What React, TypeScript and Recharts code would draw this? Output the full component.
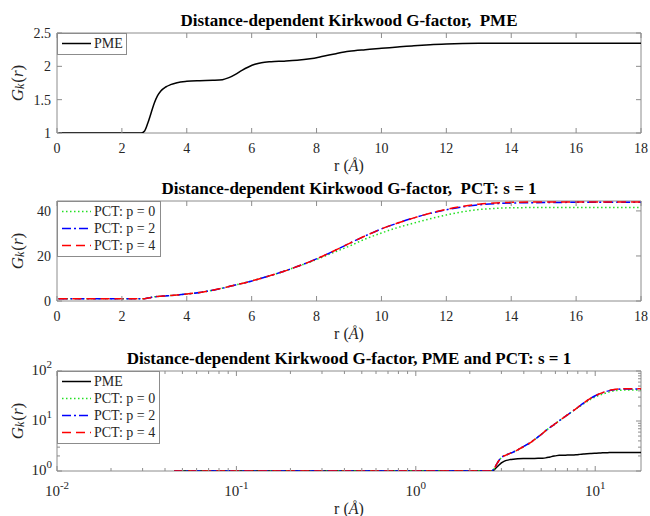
import React from "react"
import { LineChart, Line, XAxis, YAxis, ReferenceArea, Label } from "recharts"

// shared r grid (Å) for every series
const rValues = [
  0.045, 0.5, 1, 1.5, 2, 2.4, 2.6, 2.7, 2.8, 2.9, 3.0, 3.1, 3.2, 3.35, 3.5, 3.7,
  4.0, 4.4, 4.8, 5.1, 5.3, 5.5, 5.7, 5.9, 6.1, 6.3, 6.6, 7.0, 7.4, 7.8, 8.2,
  8.6, 9.0, 9.5, 10, 10.5, 11, 11.5, 12, 12.5, 13, 13.5, 14, 15, 16, 17, 18,
]

const pmeValues = [
  1, 1, 1, 1, 1, 1, 1, 1.03, 1.15, 1.3, 1.45, 1.56, 1.63, 1.69, 1.725, 1.755,
  1.775, 1.785, 1.79, 1.8, 1.83, 1.88, 1.94, 1.99, 2.03, 2.055, 2.07, 2.078,
  2.09, 2.113, 2.15, 2.19, 2.225, 2.25, 2.27, 2.29, 2.31, 2.325, 2.335, 2.342,
  2.345, 2.345, 2.345, 2.345, 2.345, 2.345, 2.345,
]

const pctP0 = [
  1, 1, 1, 1, 1, 1, 1, 1.05, 1.3, 1.6, 1.85, 2.0, 2.1, 2.25, 2.4, 2.65, 3.1,
  3.8, 4.8, 5.7, 6.4, 7.1, 7.8, 8.5, 9.3, 10.1, 11.4, 13.2, 15.3, 17.3, 19.6,
  22.0, 24.3, 27.5, 30.2, 32.6, 34.6, 36.5, 38.2, 39.6, 40.6, 41.1, 41.4, 41.5,
  41.5, 41.5, 41.5,
]

const pctP2 = [
  1, 1, 1, 1, 1, 1, 1, 1.05, 1.3, 1.6, 1.85, 2.0, 2.1, 2.25, 2.4, 2.65, 3.1,
  3.8, 4.8, 5.7, 6.4, 7.1, 7.8, 8.5, 9.3, 10.1, 11.4, 13.2, 15.3, 17.5, 20.0,
  22.7, 25.5, 28.9, 32.0, 34.6, 36.9, 38.9, 40.5, 41.8, 42.7, 43.2, 43.5, 43.7,
  43.8, 43.8, 43.8,
]

const pctP4 = [
  1, 1, 1, 1, 1, 1, 1, 1.05, 1.3, 1.6, 1.85, 2.0, 2.1, 2.25, 2.4, 2.65, 3.1,
  3.8, 4.8, 5.7, 6.4, 7.1, 7.8, 8.5, 9.3, 10.1, 11.4, 13.2, 15.3, 17.5, 20.0,
  22.7, 25.5, 28.9, 32.0, 34.6, 36.9, 39.0, 40.7, 42.0, 43.0, 43.5, 43.8, 44.0,
  44.0, 44.0, 44.0,
]

const linearXTicks = [0, 2, 4, 6, 8, 10, 12, 14, 16, 18]
const pmeYTicks = [1, 1.5, 2, 2.5]
const pctYTicks = [0, 20, 40]
const logXTicks = [
  0.01, 0.02, 0.03, 0.04, 0.05, 0.06, 0.07, 0.08, 0.09,
  0.1, 0.2, 0.3, 0.4, 0.5, 0.6, 0.7, 0.8, 0.9,
  1, 2, 3, 4, 5, 6, 7, 8, 9, 10,
]
const logYTicks = [1, 2, 3, 4, 5, 6, 7, 8, 9, 10, 20, 30, 40, 50, 60, 70, 80, 90, 100]

const rows = rValues.map((r, i) => ({
  r,
  pme: pmeValues[i],
  p0: pctP0[i],
  p2: pctP2[i],
  p4: pctP4[i],
}))

const SERIES = {
  pme: { name: "PME", color: "#000000", dash: undefined as string | undefined },
  p0: { name: "PCT: p = 0", color: "#22e022", dash: "1.5 2.5" },
  p2: { name: "PCT: p = 2", color: "#0000ff", dash: "9 3 2 3" },
  p4: { name: "PCT: p = 4", color: "#ff0000", dash: "9 5" },
}

const FONT = '"Liberation Serif", "Times New Roman", serif'
const AXIS_COLOR = "#8c8c8c"
const TEXT_COLOR = "#262626"
const PLOT_W = 584
const PLOT_H = 100
const TICK = 5
const MINOR = 3
const MARGIN = { top: 33, right: 9, bottom: 0, left: 0 }

const isDecade = (v: number) => {
  const e = Math.log10(v)
  return Math.abs(e - Math.round(e)) < 1e-6
}

function LinearXTick(props: any) {
  const { x, y, payload } = props
  return (
    <g>
      <line x1={x} x2={x} y1={y} y2={y - TICK} stroke={AXIS_COLOR} />
      <line x1={x} x2={x} y1={y - PLOT_H} y2={y - PLOT_H + TICK} stroke={AXIS_COLOR} />
      <text x={x} y={y + 20} textAnchor="middle" fontSize={14} fontFamily={FONT} fill={TEXT_COLOR}>
        {payload.value}
      </text>
    </g>
  )
}

function LinearYTick(props: any) {
  const { x, y, payload } = props
  return (
    <g>
      <line x1={x} x2={x + TICK} y1={y} y2={y} stroke={AXIS_COLOR} />
      <line x1={x + PLOT_W} x2={x + PLOT_W - TICK} y1={y} y2={y} stroke={AXIS_COLOR} />
      <text x={x - 6} y={y + 5} textAnchor="end" fontSize={14} fontFamily={FONT} fill={TEXT_COLOR}>
        {payload.value}
      </text>
    </g>
  )
}

function LogXTick(props: any) {
  const { x, y, payload } = props
  const major = isDecade(payload.value)
  const len = major ? TICK : MINOR
  return (
    <g>
      <line x1={x} x2={x} y1={y} y2={y - len} stroke={AXIS_COLOR} />
      <line x1={x} x2={x} y1={y - PLOT_H} y2={y - PLOT_H + len} stroke={AXIS_COLOR} />
      {major && (
        <text x={x} y={y + 25} textAnchor="middle" fontSize={15} fontFamily={FONT} fill={TEXT_COLOR}>
          10
          <tspan dy={-7} fontSize={11}>
            {Math.round(Math.log10(payload.value))}
          </tspan>
        </text>
      )}
    </g>
  )
}

function LogYTick(props: any) {
  const { x, y, payload } = props
  const major = isDecade(payload.value)
  const len = major ? TICK : MINOR
  return (
    <g>
      <line x1={x} x2={x + len} y1={y} y2={y} stroke={AXIS_COLOR} />
      <line x1={x + PLOT_W} x2={x + PLOT_W - len} y1={y} y2={y} stroke={AXIS_COLOR} />
      {major && (
        <text x={x - 5} y={y + 4} textAnchor="end" fontSize={15} fontFamily={FONT} fill={TEXT_COLOR}>
          10
          <tspan dy={-7} fontSize={11}>
            {Math.round(Math.log10(payload.value))}
          </tspan>
        </text>
      )}
    </g>
  )
}

function GkLabel(props: any) {
  const vb = props.viewBox || { x: 0, y: MARGIN.top, width: 57, height: PLOT_H }
  const cx = vb.x + 17
  const cy = vb.y + vb.height / 2
  return (
    <text
      transform={`rotate(-90 ${cx} ${cy})`}
      x={cx}
      y={cy}
      textAnchor="middle"
      dominantBaseline="central"
      fontSize={17}
      fontFamily={FONT}
      fill={TEXT_COLOR}
    >
      <tspan fontStyle="italic">G</tspan>
      <tspan fontStyle="italic" fontSize={12} dy={3}>
        k
      </tspan>
      <tspan dy={-3} dx={1}>
        (
      </tspan>
      <tspan fontStyle="italic">r</tspan>
      <tspan>)</tspan>
    </text>
  )
}

function makeRLabel(offset: number) {
  return (props: any) => {
    const vb = props.viewBox || { x: 57, y: MARGIN.top + PLOT_H, width: PLOT_W, height: 40 }
    return (
      <text
        x={vb.x + vb.width / 2}
        y={vb.y + offset}
        textAnchor="middle"
        fontSize={16}
        fontFamily={FONT}
        fill={TEXT_COLOR}
      >
        r (<tspan fontStyle="italic">Å</tspan>)
      </text>
    )
  }
}

type LegendItem = { name: string; color: string; dash?: string }

function LegendBox({ items, width }: { items: LegendItem[]; width: number }) {
  return (
    <div
      style={{
        position: "absolute",
        left: 57,
        top: MARGIN.top,
        width,
        background: "#fff",
        border: `1px solid ${AXIS_COLOR}`,
        padding: "1px 0 2px",
        boxSizing: "border-box",
        fontFamily: FONT,
      }}
    >
      {items.map((it) => (
        <div key={it.name} style={{ display: "flex", alignItems: "center", height: 17 }}>
          <svg width={36} height={17} style={{ display: "block" }}>
            <line
              x1={4}
              x2={33}
              y1={8.5}
              y2={8.5}
              stroke={it.color}
              strokeWidth={1.5}
              strokeDasharray={it.dash}
            />
          </svg>
          <span style={{ fontSize: 14, lineHeight: "17px", color: TEXT_COLOR, whiteSpace: "nowrap" }}>
            {it.name}
          </span>
        </div>
      ))}
    </div>
  )
}

function Title({ text }: { text: string }) {
  return (
    <div
      style={{
        position: "absolute",
        left: 57,
        width: PLOT_W,
        top: 11,
        textAlign: "center",
        fontFamily: FONT,
        fontWeight: "bold",
        fontSize: 17,
        lineHeight: "20px",
        color: "#000",
        whiteSpace: "pre",
      }}
    >
      {text}
    </div>
  )
}

function seriesLine(key: keyof typeof SERIES) {
  const s = SERIES[key]
  return (
    <Line
      key={key}
      type="monotone"
      dataKey={key}
      name={s.name}
      stroke={s.color}
      strokeWidth={1.5}
      strokeDasharray={s.dash}
      dot={false}
      activeDot={false}
      isAnimationActive={false}
    />
  )
}

export default function App() {
  return (
    <div style={{ position: "absolute", left: 0, top: 0, width: 650, height: 516, background: "#fff" }}>
      {/* Panel 1: PME */}
      <div style={{ position: "absolute", left: 0, top: 0, width: 650, height: 175 }}>
        <Title text="Distance-dependent Kirkwood G-factor,  PME" />
        <LineChart width={650} height={175} data={rows} margin={MARGIN}>
          <XAxis
            dataKey="r"
            type="number"
            domain={[0, 18]}
            ticks={linearXTicks}
            interval={0}
            allowDataOverflow
            height={42}
            tickSize={0}
            tickMargin={0}
            axisLine={false}
            tickLine={false}
            tick={(p: any) => <LinearXTick {...p} />}
          >
            <Label content={makeRLabel(38)} />
          </XAxis>
          <YAxis
            type="number"
            domain={[1, 2.5]}
            ticks={pmeYTicks}
            interval={0}
            allowDataOverflow
            width={57}
            tickSize={0}
            tickMargin={0}
            axisLine={false}
            tickLine={false}
            tick={(p: any) => <LinearYTick {...p} />}
          >
            <Label content={GkLabel} />
          </YAxis>
          <ReferenceArea x1={0} x2={18} y1={1} y2={2.5} fill="none" stroke={AXIS_COLOR} strokeWidth={1} />
          {seriesLine("pme")}
        </LineChart>
        <LegendBox items={[SERIES.pme]} width={70} />
      </div>

      {/* Panel 2: PCT */}
      <div style={{ position: "absolute", left: 0, top: 168, width: 650, height: 175 }}>
        <Title text="Distance-dependent Kirkwood G-factor,  PCT: s = 1" />
        <LineChart width={650} height={175} data={rows} margin={MARGIN}>
          <XAxis
            dataKey="r"
            type="number"
            domain={[0, 18]}
            ticks={linearXTicks}
            interval={0}
            allowDataOverflow
            height={42}
            tickSize={0}
            tickMargin={0}
            axisLine={false}
            tickLine={false}
            tick={(p: any) => <LinearXTick {...p} />}
          >
            <Label content={makeRLabel(38)} />
          </XAxis>
          <YAxis
            type="number"
            domain={[0, 44.4]}
            ticks={pctYTicks}
            interval={0}
            allowDataOverflow
            width={57}
            tickSize={0}
            tickMargin={0}
            axisLine={false}
            tickLine={false}
            tick={(p: any) => <LinearYTick {...p} />}
          >
            <Label content={GkLabel} />
          </YAxis>
          <ReferenceArea x1={0} x2={18} y1={0} y2={44.4} fill="none" stroke={AXIS_COLOR} strokeWidth={1} />
          {seriesLine("p0")}
          {seriesLine("p2")}
          {seriesLine("p4")}
        </LineChart>
        <LegendBox items={[SERIES.p0, SERIES.p2, SERIES.p4]} width={104} />
      </div>

      {/* Panel 3: log-log comparison */}
      <div style={{ position: "absolute", left: 0, top: 338, width: 650, height: 178 }}>
        <Title text="Distance-dependent Kirkwood G-factor, PME and PCT: s = 1" />
        <LineChart width={650} height={178} data={rows} margin={MARGIN}>
          <XAxis
            dataKey="r"
            type="number"
            scale="log"
            domain={[0.01, 18]}
            ticks={logXTicks}
            interval={0}
            allowDataOverflow
            height={45}
            tickSize={0}
            tickMargin={0}
            axisLine={false}
            tickLine={false}
            tick={(p: any) => <LogXTick {...p} />}
          >
            <Label content={makeRLabel(43)} />
          </XAxis>
          <YAxis
            type="number"
            scale="log"
            domain={[1, 100]}
            ticks={logYTicks}
            interval={0}
            allowDataOverflow
            width={57}
            tickSize={0}
            tickMargin={0}
            axisLine={false}
            tickLine={false}
            tick={(p: any) => <LogYTick {...p} />}
          >
            <Label content={GkLabel} />
          </YAxis>
          <ReferenceArea x1={0.01} x2={18} y1={1} y2={100} fill="none" stroke={AXIS_COLOR} strokeWidth={1} />
          {seriesLine("pme")}
          {seriesLine("p0")}
          {seriesLine("p2")}
          {seriesLine("p4")}
        </LineChart>
        <LegendBox items={[SERIES.pme, SERIES.p0, SERIES.p2, SERIES.p4]} width={103} />
      </div>
    </div>
  )
}
